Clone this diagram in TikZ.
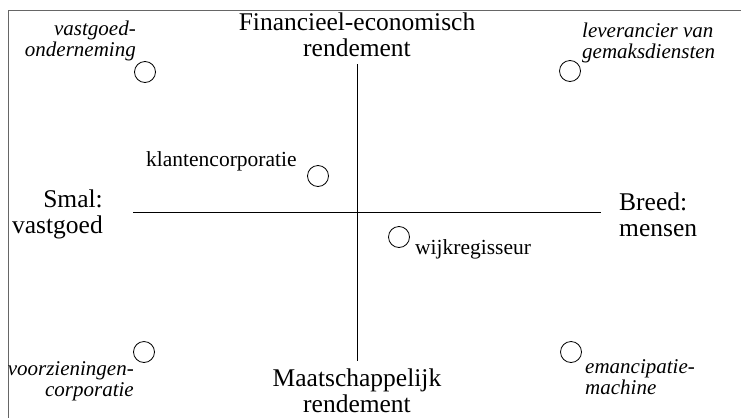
\documentclass[tikz,border=0pt]{standalone}
\usepackage{fontspec}
\setmainfont{Liberation Serif}
\tikzset{
  big/.style={inner sep=0pt, font=\fontsize{25.5}{26}\selectfont},
  lab/.style={inner sep=0pt, font=\fontsize{21}{21}\selectfont\itshape},
  plain/.style={inner sep=0pt, font=\fontsize{21.5}{22}\selectfont},
  dot/.style={draw, circle, minimum size=21pt, inner sep=0pt, line width=0.8pt},
  axis/.style={line width=0.8pt},
  frame/.style={draw=black!60, line width=0.9pt}
}
\begin{document}
\begin{tikzpicture}[x=1pt,y=-1pt]
\useasboundingbox (0,0) rectangle (741,418);
% frame
\coordinate (fr1) at (741,10);
\coordinate (fr2) at (8,10);
\coordinate (fr3) at (8,418);
\draw[frame] (fr1) -- (fr2) -- (fr3);
% axes
\coordinate (at) at (357,64);
\coordinate (ab) at (357,361);
\coordinate (al) at (133,212);
\coordinate (ar) at (601,212);
\draw[axis] (at) -- (ab);
\draw[axis] (al) -- (ar);
% axis labels
\node[big, align=center] (top) at (357,35) {Financieel-economisch\\rendement};
\node[big, align=center] (bot) at (357,391) {Maatschappelijk\\rendement};
\node[big, align=right, anchor=east] (lft) at (103,214) {Smal:\\vastgoed};
\node[big, align=left, anchor=west] (rgt) at (619,215) {Breed:\\mensen};
% circles
\node[dot] (c1) at (145,72) {};
\node[dot] (c2) at (570,71) {};
\node[dot] (c3) at (318,176) {};
\node[dot] (c4) at (399,237) {};
\node[dot] (c5) at (144,352) {};
\node[dot] (c6) at (571,352) {};
% labels
\node[lab, align=right, anchor=east] (l1) at (136,41) {vastgoed-\\onderneming};
\node[lab, align=left, anchor=west] (l2) at (582,43) {leverancier van\\gemaksdiensten};
\node[plain, anchor=west] (l3) at (146,161) {klantencorporatie};
\node[plain, anchor=west] (l4) at (415,249) {wijkregisseur};
\node[lab, align=right, anchor=east] (l5) at (134,381) {voorzieningen-\\corporatie};
\node[lab, align=left, anchor=west] (l6) at (585,377) {emancipatie-\\machine};
\end{tikzpicture}
\end{document}
